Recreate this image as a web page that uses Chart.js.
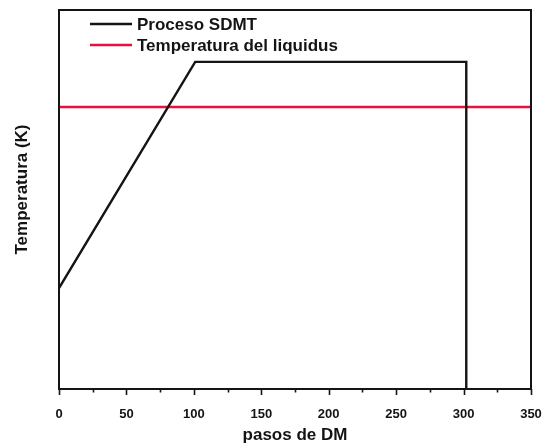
<!DOCTYPE html>
<html>
<head>
<meta charset="utf-8">
<script src="https://cdn.jsdelivr.net/npm/chart.js@4/dist/chart.umd.min.js"></script>
<style>
  html, body { margin: 0; padding: 0; background: #fff; }
  #wrap { width: 543px; height: 447px; position: relative; }
</style>
</head>
<body>
<div id="wrap"><canvas id="c" width="543" height="447"></canvas></div>
<script>
// ---- Data ----
const seriesNames = ['Proceso SDMT', 'Temperatura del liquidus'];
const sdmtSteps = [0, 101, 302, 302];
const sdmtTemp = [26.6, 86.3, 86.3, 0];
const liquidusSteps = [0, 350];
const liquidusTemp = [74.4, 74.4];
const xMajorTicks = [0, 50, 100, 150, 200, 250, 300, 350];
const xMinorTicks = [25, 75, 125, 175, 225, 275, 325];
const xTitle = 'pasos de DM';
const yTitle = 'Temperatura (K)';

const FONT = '"Liberation Sans", Arial, sans-serif';
const INK = '#141414';
const RED = '#e3123e';

function toPoints(xs, ys) { return xs.map((x, i) => ({ x: x, y: ys[i] })); }

const framePlugin = {
  id: 'frame',
  afterDatasetsDraw(chart) {
    const { ctx, chartArea: a, scales } = chart;
    ctx.save();
    // box
    ctx.strokeStyle = INK;
    ctx.lineWidth = 2;
    ctx.strokeRect(a.left, a.top, a.right - a.left, a.bottom - a.top);
    // ticks on bottom axis
    ctx.lineWidth = 1.6;
    const xs = scales.x;
    xMajorTicks.forEach(v => {
      const px = Math.round(xs.getPixelForValue(v)) + 0.5;
      ctx.beginPath(); ctx.moveTo(px, a.bottom); ctx.lineTo(px, a.bottom + 6); ctx.stroke();
    });
    xMinorTicks.forEach(v => {
      const px = Math.round(xs.getPixelForValue(v)) + 0.5;
      ctx.beginPath(); ctx.moveTo(px, a.bottom); ctx.lineTo(px, a.bottom + 3.5); ctx.stroke();
    });
    // legend inside plot
    const items = chart.data.datasets;
    const rows = [24, 45];
    ctx.font = 'bold 17px ' + FONT;
    ctx.textBaseline = 'middle';
    ctx.textAlign = 'left';
    items.forEach((ds, i) => {
      ctx.strokeStyle = ds.borderColor;
      ctx.lineWidth = 2.4;
      ctx.beginPath(); ctx.moveTo(90, rows[i]); ctx.lineTo(132, rows[i]); ctx.stroke();
      ctx.fillStyle = INK;
      ctx.fillText(ds.label, 137, rows[i] + 1);
    });
    // y axis title (slightly above centre, as in the reference)
    ctx.translate(22, (a.top + a.bottom) / 2 - 10);
    ctx.rotate(-Math.PI / 2);
    ctx.textAlign = 'center';
    ctx.fillText(yTitle, 0, 0);
    ctx.restore();
  }
};

new Chart(document.getElementById('c'), {
  type: 'scatter',
  data: {
    datasets: [
      {
        label: seriesNames[0],
        data: toPoints(sdmtSteps, sdmtTemp),
        showLine: true,
        borderColor: INK,
        backgroundColor: INK,
        borderWidth: 2.4,
        pointRadius: 0,
        tension: 0
      },
      {
        label: seriesNames[1],
        data: toPoints(liquidusSteps, liquidusTemp),
        showLine: true,
        borderColor: RED,
        backgroundColor: RED,
        borderWidth: 2.6,
        pointRadius: 0,
        tension: 0
      }
    ]
  },
  options: {
    responsive: false,
    animation: false,
    devicePixelRatio: 1,
    layout: { padding: { top: 10, right: 12, left: 0, bottom: 0 } },
    plugins: { legend: { display: false }, tooltip: { enabled: false } },
    scales: {
      x: {
        type: 'linear',
        min: 0, max: 350,
        afterBuildTicks: s => { s.ticks = xMajorTicks.map(v => ({ value: v })); },
        grid: { display: false },
        border: { display: false },
        ticks: {
          color: INK,
          font: { family: FONT, size: 13, weight: 'bold' },
          padding: 10,
          maxRotation: 0,
          autoSkip: false
        },
        title: {
          display: true,
          text: xTitle,
          color: INK,
          font: { family: FONT, size: 17, weight: 'bold' },
          padding: { top: 0, bottom: 1 }
        },
        afterFit: s => { s.height = 58; s.paddingLeft = 0; s.paddingRight = 0; }
      },
      y: {
        type: 'linear',
        min: 0, max: 100,
        grid: { display: false },
        border: { display: false },
        ticks: { display: false },
        title: { display: false },
        afterFit: s => { s.width = 59; }
      }
    }
  },
  plugins: [framePlugin]
});
</script>
</body>
</html>
